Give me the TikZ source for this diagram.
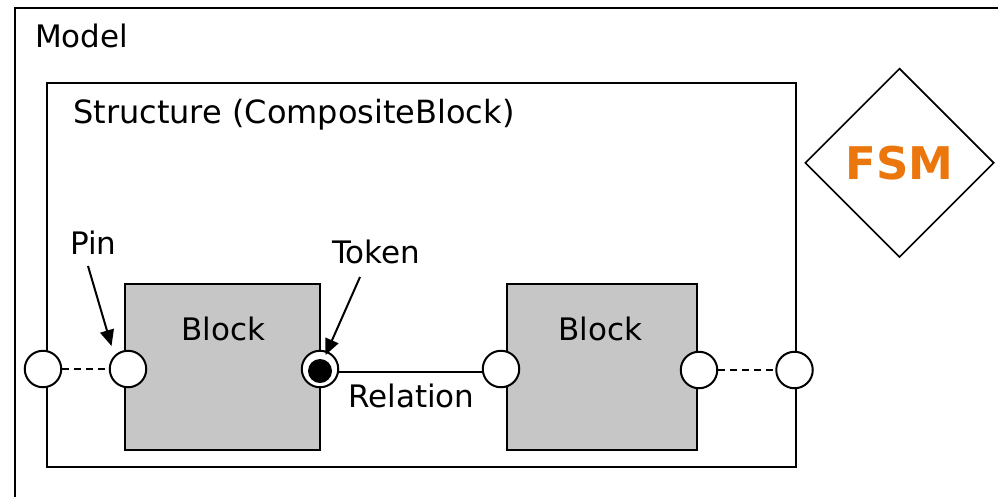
\documentclass[tikz,border=0pt]{standalone}
\usepackage{fontspec}
\setmainfont{DejaVu Sans}
\usetikzlibrary{shapes.geometric,arrows.meta}
\definecolor{fsmorange}{RGB}{234,118,12}
\definecolor{blockgray}{RGB}{198,198,198}
\begin{document}
\begin{tikzpicture}[x=1pt,y=-1pt,
  frame/.style={draw,line width=2pt,rectangle,inner sep=0pt,anchor=north west},
  blockbox/.style={draw,line width=2pt,fill=blockgray,rectangle,inner sep=0pt,minimum height=166pt,anchor=north west},
  pin/.style={circle,draw,line width=2pt,fill=white,minimum size=36.5pt,inner sep=0pt},
  lbl/.style={inner sep=0pt,anchor=base west,font=\fontsize{31}{36}\selectfont},
  ptr/.style={line width=2pt,-{Triangle[length=16pt,width=14pt]}},
  dashline/.style={line width=2pt,dash pattern=on 7pt off 5pt},
  plain/.style={line width=2pt},
]
\useasboundingbox (0,0) rectangle (998,496);
\clip (0,0) rectangle (998,496);
\fill[white] (0,0) rectangle (998,496);

% frames
\node[frame,minimum width=1030pt,minimum height=540pt] (model) at (13.5,6.5) {};
\node[lbl] (modellbl) at (35,47) {Model};
\node[frame,minimum width=749.5pt,minimum height=384pt] (struct) at (45.5,82) {};
\node[lbl,font=\fontsize{32}{38}\selectfont] (structlbl) at (73,123) {Structure (CompositeBlock)};

% blocks
\node[blockbox,minimum width=195pt] (blk1) at (123.5,283) {};
\node[blockbox,minimum width=190pt] (blk2) at (506,283) {};
\node[lbl] (blk1lbl) at (181,340) {Block};
\node[lbl] (blk2lbl) at (558,340) {Block};

% pins
\node[pin] (lp1) at (43,369) {};
\node[pin] (lp2) at (128,369) {};
\node[pin] (tok) at (320,369) {};
\node[circle,fill=black,minimum size=24pt,inner sep=0pt] (tokdot) at (320,371) {};
\node[pin] (rp1) at (501,369) {};
\node[pin] (rp2) at (699,370) {};
\node[pin] (rp3) at (794.5,370) {};

% connections
\draw[dashline] (lp1) -- (lp2);
\draw[dashline] (rp2) -- (rp3);
\draw[plain] ([yshift=-3pt]tok.east) -- ([yshift=-3pt]rp1.west);
\node[lbl] (rellbl) at (348,407) {Relation};

% annotation labels
\node[lbl] (pinlbl) at (70,254) {Pin};
\coordinate (pinfrom) at (88,266);
\coordinate (pintip) at (111.5,346);
\draw[ptr] (pinfrom) -- (pintip);

\node[lbl] (toklbl) at (332,263) {Token};
\coordinate (tokfrom) at (360,277);
\coordinate (toktip) at (325.5,355);
\draw[ptr] (tokfrom) -- (toktip);

% FSM
\node[diamond,draw,line width=1.6pt,minimum width=189pt,minimum height=189pt,inner sep=0pt,
      text=fsmorange,font=\fontsize{45}{54}\selectfont\bfseries] (fsm) at (899.5,162.8) {FSM};
\end{tikzpicture}
\end{document}
